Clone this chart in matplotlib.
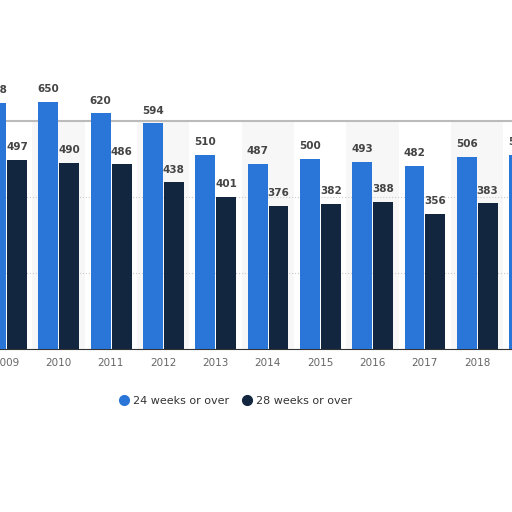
import matplotlib.pyplot as plt
from matplotlib.lines import Line2D
import numpy as np

years = [2008, 2009, 2010, 2011, 2012, 2013, 2014, 2015, 2016, 2017, 2018, 2019]
weeks24 = [655, 648, 650, 620, 594, 510, 487, 500, 493, 482, 506, 511]
weeks28 = [520, 497, 490, 486, 438, 401, 376, 382, 388, 356, 383, 390]

blue = '#2a76d8'
navy = '#12263f'

fig = plt.figure(figsize=(5.12, 5.12), dpi=100)
ax = fig.add_axes([0, 0.318, 1, 0.446])

x = np.array(years)
w = 0.38

# light alternating column bands
for yr in years:
    if yr % 2 == 0:
        ax.axvspan(yr - 0.5, yr + 0.5, color='#f7f7f7', zorder=0, lw=0)

b1 = ax.bar(x - 0.195, weeks24, w, color=blue, zorder=3, clip_on=False)
b2 = ax.bar(x + 0.205, weeks28, w, color=navy, zorder=3, clip_on=False)

for bars in (b1, b2):
    for r in bars:
        h = r.get_height()
        ax.text(r.get_x() + r.get_width() / 2, h + 20, str(int(h)), ha='center', va='bottom',
                fontsize=7.5, fontweight='bold', color='#444444', clip_on=False)

ax.set_ylim(0, 600)
ax.set_yticks([200, 400])
ax.yaxis.grid(True, linestyle=':', color='#cccccc', lw=0.8, zorder=1)
ax.tick_params(axis='y', left=False, labelleft=False)
ax.set_xticks(years)
ax.set_xticklabels([str(y) for y in years], fontsize=7.5, color='#666666')
ax.tick_params(axis='x', length=0, pad=6)
ax.set_xlim(2008.88, 2018.67)

for s in ('left', 'right'):
    ax.spines[s].set_visible(False)
ax.spines['top'].set_color('#bbbbbb')
ax.spines['top'].set_linewidth(1.5)
ax.spines['bottom'].set_color('#333333')

handles = [Line2D([], [], marker='o', ls='', color=blue, markersize=7, label='24 weeks or over'),
           Line2D([], [], marker='o', ls='', color=navy, markersize=7, label='28 weeks or over')]
leg = fig.legend(handles=handles, loc='center', bbox_to_anchor=(0.46, 0.217), ncol=2,
                 frameon=False, fontsize=8, handlelength=0.8, columnspacing=1.2, handletextpad=0.4)
for t in leg.get_texts():
    t.set_color('#333333')
plt.savefig('out.png', dpi=100)
